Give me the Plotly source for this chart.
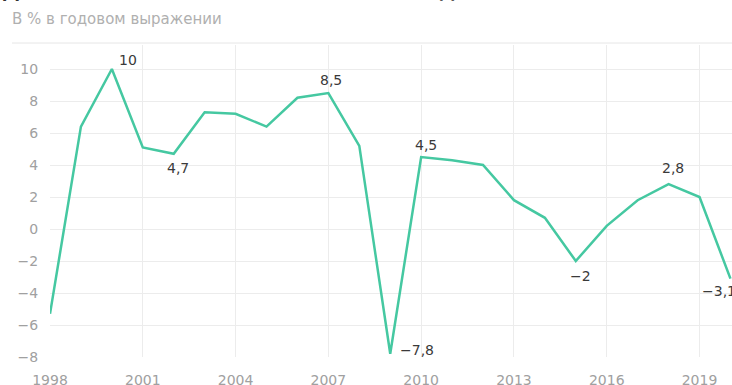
import plotly.graph_objects as go

years = list(range(1998, 2021))
gdp = [-5.3, 6.4, 10.0, 5.1, 4.7, 7.3, 7.2, 6.4, 8.2, 8.5, 5.2, -7.8,
       4.5, 4.3, 4.0, 1.8, 0.7, -2.0, 0.2, 1.8, 2.8, 2.0, -3.1]

label_years = [2000, 2002, 2007, 2009, 2010, 2015, 2018, 2020]
label_texts = ["10", "4,7", "8,5", "−7,8", "4,5", "−2", "2,8", "−3,1"]

tick_years = [1998, 2001, 2004, 2007, 2010, 2013, 2016, 2019]
y_ticks = [-8, -6, -4, -2, 0, 2, 4, 6, 8, 10]

# label offsets in pixels (style only)
label_dx = [16, 4, 3, 27, 5, 5, 4, -11]
label_dy = [9, -14, 13, 4, 12, -15, 16, -12]

FONT = "DejaVu Sans, Verdana, sans-serif"
L, T, B = 50, 45, 28
W, H = 732, 385
PW, PH = W - L, H - T - B

fig = go.Figure()
fig.add_trace(go.Scatter(
    x=years, y=gdp, mode="lines",
    line=dict(color="#45c8a1", width=2.5),
    hoverinfo="skip", cliponaxis=False))

for yr, txt, dx, dy in zip(label_years, label_texts, label_dx, label_dy):
    fig.add_annotation(x=yr, y=gdp[years.index(yr)], text=txt,
                       showarrow=False, xshift=dx, yshift=dy,
                       xanchor="center", yanchor="middle",
                       font=dict(family=FONT, size=14, color="#3a3a3a"))

fig.update_layout(
    width=W, height=H,
    margin=dict(l=L, r=0, t=T, b=B),
    paper_bgcolor="white", plot_bgcolor="white",
    showlegend=False,
    separators=", ",
    font=dict(family=FONT),
    xaxis=dict(range=[1998, 2020.05], tickvals=tick_years,
               ticktext=[str(t) for t in tick_years],
               showgrid=True, gridcolor="#ececec", gridwidth=1,
               zeroline=False, showline=False, automargin=False,
               ticks="outside", ticklen=10, tickcolor="rgba(0,0,0,0)",
               tickfont=dict(size=14, color="#a0a0a0")),
    yaxis=dict(range=[-8, 11.5], tickvals=y_ticks,
               showgrid=True, gridcolor="#ececec", gridwidth=1,
               zeroline=False, showline=False, automargin=False,
               ticks="outside", ticklen=8, tickcolor="rgba(0,0,0,0)",
               tickfont=dict(size=14, color="#a0a0a0")),
)

# title mostly above the visible window (only its lower edge shows)
fig.add_annotation(xref="paper", yref="paper", x=-L/PW, y=1 + (T + 9)/PH,
                   xanchor="left", yanchor="middle", showarrow=False,
                   text="<b>Динамика ВВП России в 1998–2020 годах</b>",
                   font=dict(family=FONT, size=20, color="#333333"))
fig.add_annotation(xref="paper", yref="paper", x=-(L - 10)/PW, y=1 + (T - 19)/PH,
                   xanchor="left", yanchor="middle", showarrow=False,
                   text="В % в годовом выражении",
                   font=dict(family=FONT, size=15, color="#b0b0b0"))
fig.add_shape(type="line", xref="paper", yref="paper",
              x0=-(L - 12)/PW, x1=1, y0=1 + 2/PH, y1=1 + 2/PH,
              line=dict(color="#e6e6e6", width=1))

fig.write_html("out.html",
               config={"displayModeBar": False},
               post_script="document.body.style.margin='0';document.body.style.overflow='hidden';")
